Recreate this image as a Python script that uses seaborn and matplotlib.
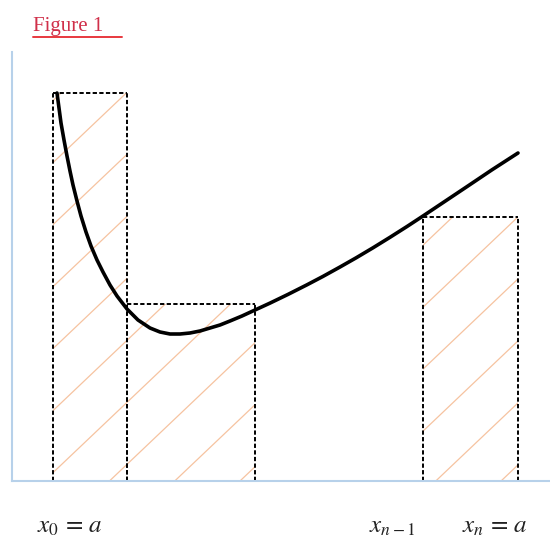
import numpy as np
import pandas as pd
import matplotlib.pyplot as plt
import seaborn as sns

# curve f(x) (x, height above the axis)
curve_x = [57, 59, 61, 64, 67, 70, 73, 77, 81, 86, 91, 97, 103, 110, 117, 127,
           138, 150, 160, 170, 180, 190, 200, 210, 220, 230, 242, 255, 270,
           288, 307, 323, 340, 356, 373, 390, 407, 423, 445, 467, 492, 518]
curve_y = [388, 373, 358, 341, 325, 310, 296, 280, 265, 249, 235, 221, 209, 196, 185, 172,
           161, 153, 149, 147, 147, 148, 150, 153, 156, 160, 165, 171, 177.9,
           186.6, 196.2, 204.6, 214, 223.1, 233.2, 243.7, 254.5, 265, 279.7, 294.4, 311.2, 328]

# rectangles (left edge, right edge, height)
rect_left = [53, 127, 423]
rect_right = [127, 255, 518]
rect_height = [388, 177, 264]

labels = [r'$x_0\,=\,a$', r'$x_{n-1}$', r'$x_n\,=\,a$']
label_x = [70, 392, 495]

sns.set_style('white')
plt.rcParams['mathtext.fontset'] = 'stix'

fig = plt.figure(figsize=(5.5, 5.39), dpi=100)
ax = fig.add_axes([12 / 550, 58 / 539, 538 / 550, 429 / 539])

df = pd.DataFrame({'x': curve_x, 'y': curve_y})

# rectangles with sparse orange hatching
bars = ax.bar(rect_left, rect_height, width=np.array(rect_right) - np.array(rect_left),
              align='edge', color='none', edgecolor='none', zorder=1)
for bar in bars:
    for c in np.arange(-600, 500, 62):
        xs = np.array([0, 600])
        ln, = ax.plot(xs, 0.95 * xs + c, color='#f6c3a0', lw=0.9, zorder=1)
        ln.set_clip_path(bar)

# dashed outlines
dash = dict(color='black', lw=1.4, ls=(0, (2.2, 1.2)), zorder=2)
ax.vlines(rect_left, 0, rect_height, **dash)
ax.vlines(rect_right, 0, rect_height, **dash)
ax.hlines(rect_height, rect_left, rect_right, **dash)

sns.lineplot(data=df, x='x', y='y', color='black', lw=2.6, ax=ax, zorder=3, sort=False)

ax.set_xlim(12, 550)
ax.set_ylim(0, 429)
ax.set_xticks([])
ax.set_yticks([])
ax.set_xlabel('')
ax.set_ylabel('')
for s in ['top', 'right']:
    ax.spines[s].set_visible(False)
for s in ['left', 'bottom']:
    ax.spines[s].set_color('#b7d1ea')
    ax.spines[s].set_linewidth(1.5)

for lab, lx in zip(labels, label_x):
    ax.text(lx, -45, lab, ha='center', va='center', fontsize=18, color='#222222')

fig.text(33 / 550, 1 - 26 / 539, 'Figure 1', ha='left', va='center',
         fontsize=15, color='#d0304a', family='Liberation Serif')
fig.add_artist(plt.Line2D([33 / 550, 122 / 550], [1 - 37 / 539, 1 - 37 / 539],
                          color='#e8383e', lw=1.4))

fig.savefig('out.png', dpi=100)
